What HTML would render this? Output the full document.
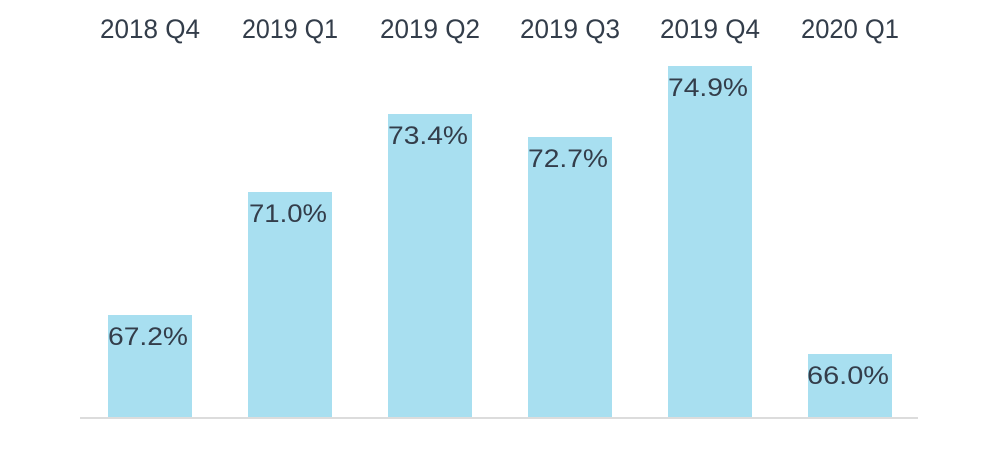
<!DOCTYPE html>
<html><head><style>
body{margin:0;width:1000px;height:450px;background:#fff;overflow:hidden}
</style></head><body>
<svg width="1000" height="450" xmlns="http://www.w3.org/2000/svg" font-family="Liberation Sans, sans-serif" fill="#333d4a">
<rect x="80" y="417" width="838" height="2" fill="#dcdcdc"/>
<g fill="#a8dff0">
<rect x="108" y="315" width="84" height="102"/>
<rect x="248" y="192" width="84" height="225"/>
<rect x="388" y="114" width="84" height="303"/>
<rect x="528" y="137" width="84" height="280"/>
<rect x="668" y="66" width="84" height="351"/>
<rect x="808" y="354" width="84" height="63"/>
</g>
<g font-size="27" text-anchor="middle">
<text x="150" y="38" textLength="100" lengthAdjust="spacingAndGlyphs">2018 Q4</text>
<text x="290" y="38" textLength="96" lengthAdjust="spacingAndGlyphs">2019 Q1</text>
<text x="430" y="38" textLength="100" lengthAdjust="spacingAndGlyphs">2019 Q2</text>
<text x="570" y="38" textLength="100" lengthAdjust="spacingAndGlyphs">2019 Q3</text>
<text x="710" y="38" textLength="100" lengthAdjust="spacingAndGlyphs">2019 Q4</text>
<text x="850" y="38" textLength="98" lengthAdjust="spacingAndGlyphs">2020 Q1</text>
</g>
<g font-size="25" text-anchor="middle">
<text x="148" y="345" textLength="80" lengthAdjust="spacingAndGlyphs">67.2%</text>
<text x="288" y="222" textLength="78" lengthAdjust="spacingAndGlyphs">71.0%</text>
<text x="428" y="144" textLength="80" lengthAdjust="spacingAndGlyphs">73.4%</text>
<text x="568" y="167" textLength="80" lengthAdjust="spacingAndGlyphs">72.7%</text>
<text x="708" y="96" textLength="80" lengthAdjust="spacingAndGlyphs">74.9%</text>
<text x="848" y="384" textLength="82" lengthAdjust="spacingAndGlyphs">66.0%</text>
</g>
</svg>
</body></html>
